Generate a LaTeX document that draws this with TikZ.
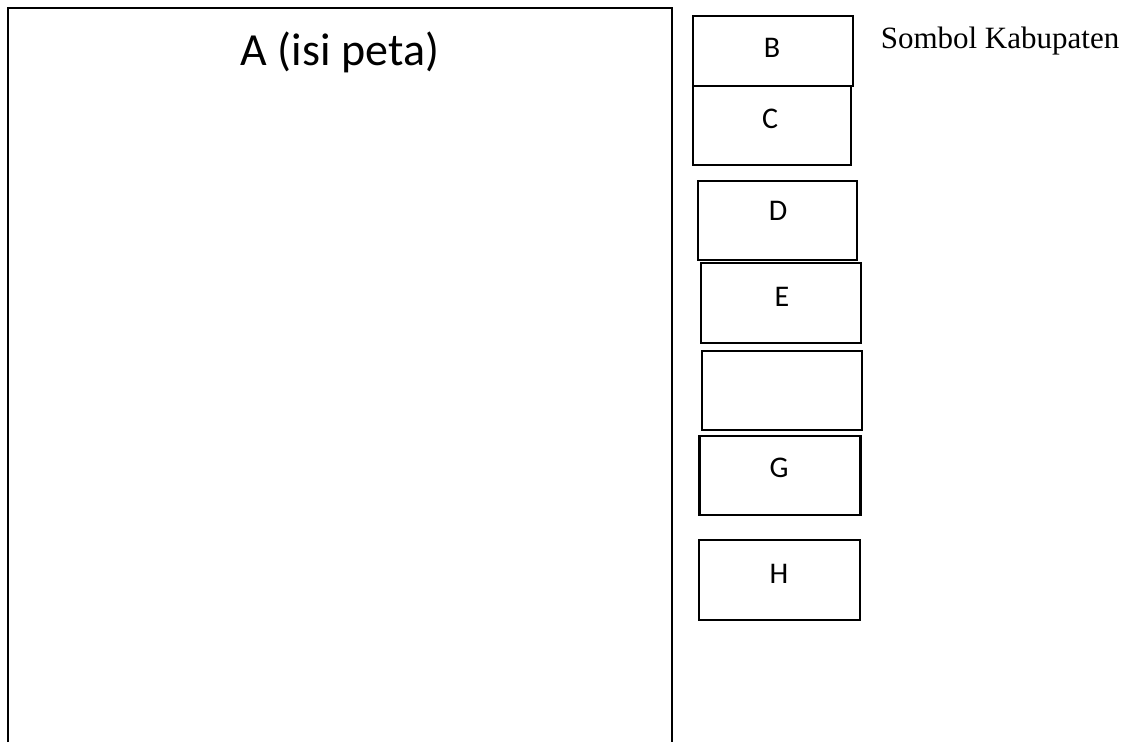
\documentclass[tikz,border=0pt]{standalone}
\usepackage{fontspec}
\setmainfont{Carlito}
\newfontfamily\serifkab{Liberation Serif}
\begin{document}
\begin{tikzpicture}[x=1pt,y=-1pt,
  frame/.style={draw=black,line width=2.8pt,line join=miter},
  boxnode/.style={draw=black,line width=2.8pt,rectangle,inner sep=0pt},
  lettr/.style={anchor=base,inner sep=0pt,font=\fontsize{30}{32}\selectfont}]
\useasboundingbox (0,0) rectangle (1131,742);
% big map frame (open at bottom)
\coordinate (abl) at (8,742);
\coordinate (atl) at (8,8);
\coordinate (atr) at (672,8);
\coordinate (abr) at (672,742);
\draw[frame] (abl) -- (atl) -- (atr) -- (abr);
\node[anchor=base,inner sep=0pt,font=\fontsize{46}{50}\selectfont] (A) at (340,65) {A (isi peta)};
% right side boxes
\node[boxnode,minimum width=160pt,minimum height=70pt] (B) at (773,51) {};
\node[boxnode,minimum width=158pt,minimum height=79pt] (C) at (772,125.5) {};
\node[boxnode,minimum width=159pt,minimum height=79pt] (D) at (777.5,220.5) {};
\node[boxnode,minimum width=160pt,minimum height=80pt] (E) at (781,303) {};
\node[boxnode,minimum width=160pt,minimum height=79pt] (F) at (782,390.5) {};
\node[boxnode,minimum width=161pt,minimum height=79pt] (G) at (780,475.5) {};
\node[boxnode,minimum width=161pt,minimum height=80pt] (H) at (779.5,580) {};
% labels
\node[lettr] (lB) at (772,57) {B};
\node[lettr] (lC) at (770,128) {C};
\node[lettr] (lD) at (778,220) {D};
\node[lettr] (lE) at (782,306) {E};
\node[lettr] (lG) at (779,477) {G};
\node[lettr] (lH) at (779,583) {H};
\node[anchor=base,inner sep=0pt,font=\serifkab\fontsize{31}{34}\selectfont] (kab) at (1000,48) {Sombol Kabupaten};
\end{tikzpicture}
\end{document}
